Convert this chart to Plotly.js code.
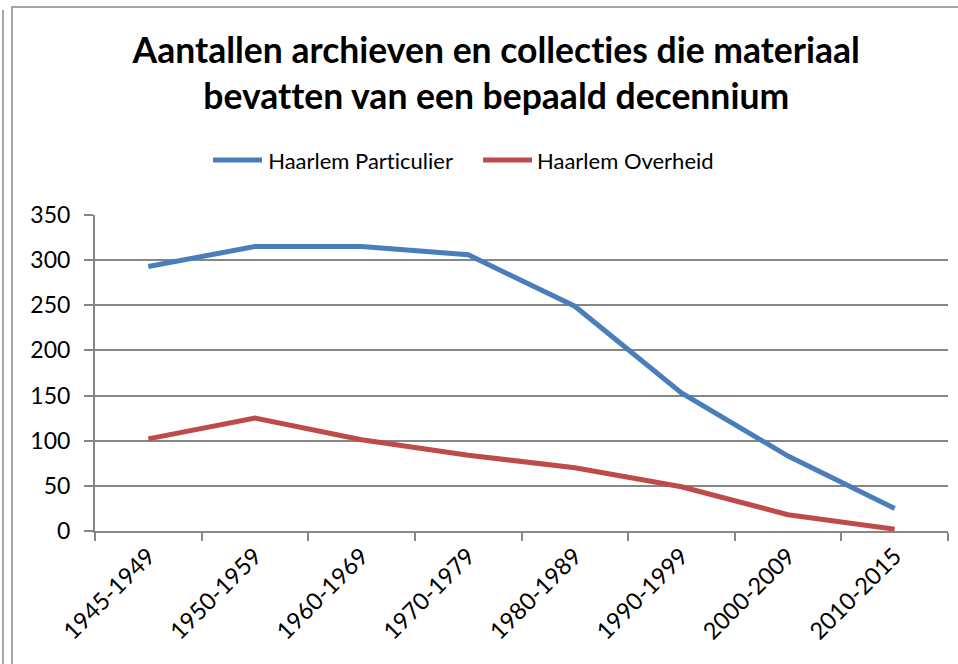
<!DOCTYPE html>
<html>
<head>
<meta charset="utf-8">
<script src="https://cdn.plot.ly/plotly-3.0.1.min.js"></script>
<style>
  html, body { margin: 0; padding: 0; background: #fff; }
  #wrap { position: relative; width: 958px; height: 664px; overflow: hidden; }
  #chart { position: absolute; left: 0; top: 0; width: 958px; height: 664px; }
  #chart text { font-variant-ligatures: none; font-feature-settings: "liga" 0, "clig" 0; }
  .frame { position: absolute; background: #a6a6a6; pointer-events: none; }
</style>
</head>
<body>
<div id="wrap">
  <div id="chart"></div>
  <div class="frame" style="left:2px; top:10px; width:2px; height:654px;"></div>
  <div class="frame" style="left:11px; top:6px; width:2px; height:658px;"></div>
  <div class="frame" style="left:11px; top:6px; width:947px; height:2px;"></div>
</div>
<script>
const categories = ["1945-1949", "1950-1959", "1960-1969", "1970-1979", "1980-1989", "1990-1999", "2000-2009", "2010-2015"];
const particulier = [293, 315, 315, 306, 249, 153, 83, 25];
const overheid = [102, 125, 101, 84, 70, 49, 18, 2];
const seriesNames = ["Haarlem Particulier", "Haarlem Overheid"];
const seriesColors = ["#4a7ebb", "#be4b48"];
const yTicks = [0, 50, 100, 150, 200, 250, 300, 350];

const font = "Lato, 'Open Sans', sans-serif";
const traces = [
  { x: categories, y: particulier, type: "scatter", mode: "lines", name: seriesNames[0],
    line: { color: seriesColors[0], width: 5 } },
  { x: categories, y: overheid, type: "scatter", mode: "lines", name: seriesNames[1],
    line: { color: seriesColors[1], width: 5 } }
];

// manual legend (line sample + label), placed in paper coordinates above the plot
const legendItems = [
  { x0: 0.1383, x1: 0.1958, tx: 0.2005 },
  { x0: 0.4549, x1: 0.5123, tx: 0.5158 }
];
const legendY = 1.174;
const shapes = legendItems.map((it, i) => ({
  type: "line", xref: "paper", yref: "paper", x0: it.x0, x1: it.x1, y0: legendY, y1: legendY,
  line: { color: seriesColors[i], width: 5 }, layer: "above"
}));
const annotations = legendItems.map((it, i) => ({
  xref: "paper", yref: "paper", x: it.tx, y: legendY, xanchor: "left", yanchor: "middle",
  text: seriesNames[i], showarrow: false, font: { family: font, size: 22, color: "#000" }
}));

const layout = {
  width: 958, height: 664,
  margin: { l: 95, r: 10, t: 215, b: 133 },
  paper_bgcolor: "rgba(0,0,0,0)", plot_bgcolor: "#fff",
  font: { family: font, color: "#000", size: 20 },
  title: {
    text: "<b>Aantallen archieven en collecties die materiaal<br>bevatten van een bepaald decennium</b>",
    font: { family: font, size: 35.5, color: "#000" },
    xref: "container", x: 0.518, xanchor: "center",
    yref: "container", y: 0.905, yanchor: "top"
  },
  showlegend: false,
  shapes: shapes,
  annotations: annotations,
  xaxis: {
    type: "category", range: [-0.5, 7.5],
    showline: true, linecolor: "#868686", linewidth: 2,
    ticks: "outside", tickson: "boundaries", ticklen: 8, tickcolor: "#868686", tickwidth: 2,
    tickangle: -45, tickfont: { family: font, size: 23.5, color: "#000" },
    showgrid: false, zeroline: false, fixedrange: true
  },
  yaxis: {
    range: [0, 350], tickvals: yTicks, ticktext: yTicks.map(String),
    showline: true, linecolor: "#868686", linewidth: 2,
    ticks: "outside", ticklen: 9, tickcolor: "#868686", tickwidth: 2,
    showgrid: true, gridcolor: "#868686", gridwidth: 2,
    zeroline: false, tickfont: { family: font, size: 23, color: "#000" },
    ticklabelstandoff: 9, fixedrange: true
  }
};
Plotly.newPlot("chart", traces, layout, { displayModeBar: false, staticPlot: true });
</script>
</body>
</html>
